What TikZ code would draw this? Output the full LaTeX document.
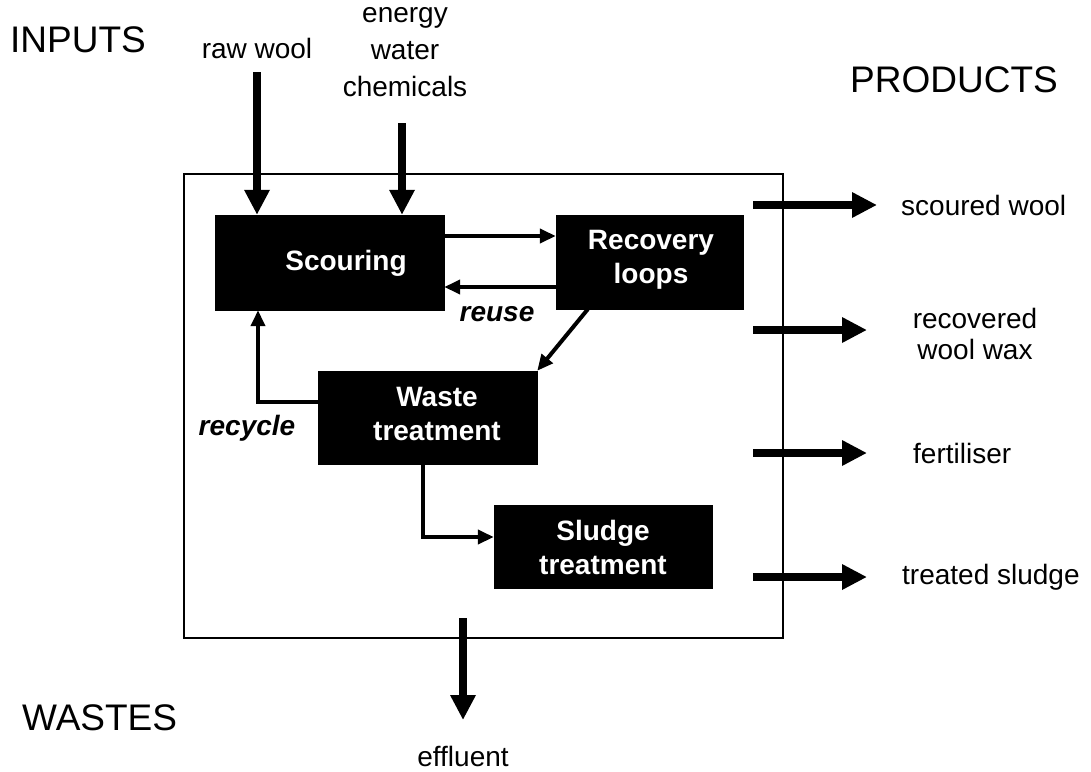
\documentclass[tikz,border=0pt]{standalone}
\usepackage{fontspec}
\setmainfont{Liberation Sans}
\usetikzlibrary{arrows.meta,calc}
\tikzset{
  blk/.style={draw=black,fill=black,inner sep=0pt},
  blktext/.style={text=white,font=\fontsize{28}{34}\selectfont\bfseries,align=center,inner sep=0pt},
  lbl/.style={font=\fontsize{28}{34}\selectfont,align=center,inner sep=0pt},
  hdr/.style={font=\fontsize{37}{42}\selectfont,inner sep=0pt},
  itl/.style={font=\fontsize{28}{34}\selectfont\bfseries\itshape,inner sep=0pt},
  bigarrow/.style={line width=8pt,-{Triangle[length=25pt,width=24pt]}},
  thinarrow/.style={line width=4pt,-{Triangle[length=16pt,width=14pt]}},
}
\begin{document}
\begin{tikzpicture}[x=1pt,y=-1pt]
\useasboundingbox (0,0) rectangle (1091,771);
% outer boundary
\draw[line width=1.5pt] (184,174) rectangle (783,638);
% process boxes
\node[blk,minimum width=229pt,minimum height=95pt] (scour) at (329.5,262.5) {};
\node[blktext] (scourt) at (346,263) {Scouring};
\node[blk,minimum width=187pt,minimum height=94pt] (rec) at (649.5,262) {};
\node[blktext] (rect) at (651,260) {Recovery\\loops};
\node[blk,minimum width=219pt,minimum height=93pt] (waste) at (427.5,417.5) {};
\node[blktext] (wastet) at (437,414) {Waste\\treatment};
\node[blk,minimum width=218pt,minimum height=83pt] (sludge) at (603,546.5) {};
\node[blktext] (sludget) at (603,547) {Sludge\\treatment};
% headers
\node[hdr,anchor=west] (inputs) at (10,40) {INPUTS};
\node[hdr,anchor=west] (products) at (850,80) {PRODUCTS};
\node[hdr,anchor=west] (wastes) at (22,718) {WASTES};
% input labels
\node[lbl] (rawwool) at (257,48) {raw wool};
\node[lbl,font=\fontsize{28}{37}\selectfont] (ewc) at (405,52) {energy\\water\\chemicals};
% input arrows
\coordinate (rwstart) at (257,72);
\coordinate (ewcstart) at (402,123);
\draw[bigarrow] (rwstart) -- (rwstart |- scour.north);
\draw[bigarrow] (ewcstart) -- (ewcstart |- scour.north);
% internal connectors
\coordinate (fwd) at (0,236);
\coordinate (back) at (0,287);
\draw[thinarrow] (scour.east |- fwd) -- (rec.west |- fwd);
\draw[thinarrow] (rec.west |- back) -- (scour.east |- back);
\node[itl] (reuse) at (497,314) {reuse};
\draw[thinarrow] ([xshift=32pt]rec.south west) -- (waste.north east);
\coordinate (recx) at (258,0);
\draw[thinarrow] ([yshift=15.5pt]waste.west) -| (recx |- scour.south);
\node[itl] (recycle) at (247,428) {recycle};
\coordinate (wsx) at (423,0);
\draw[thinarrow] (wsx |- waste.south) |- ([yshift=9.5pt]sludge.west);
% effluent
\coordinate (effs) at (463,618);
\coordinate (effe) at (463,720);
\draw[bigarrow] (effs) -- (effe);
\node[lbl] (effluent) at (463,756) {effluent};
% product arrows
\coordinate (p1s) at (753,205); \coordinate (p1e) at (877,205);
\coordinate (p2s) at (753,330); \coordinate (p2e) at (867,330);
\coordinate (p3s) at (753,453); \coordinate (p3e) at (867,453);
\coordinate (p4s) at (753,577); \coordinate (p4e) at (867,577);
\draw[bigarrow] (p1s) -- (p1e);
\draw[bigarrow] (p2s) -- (p2e);
\draw[bigarrow] (p3s) -- (p3e);
\draw[bigarrow] (p4s) -- (p4e);
\node[lbl,anchor=west] (scw) at (901,205) {scoured wool};
\node[lbl,font=\fontsize{28}{31}\selectfont] (rww) at (975,334) {recovered\\wool wax};
\node[lbl,anchor=west] (fert) at (913,453) {fertiliser};
\node[lbl,anchor=west] (tsl) at (902,577) {treated sludge};
\end{tikzpicture}
\end{document}
